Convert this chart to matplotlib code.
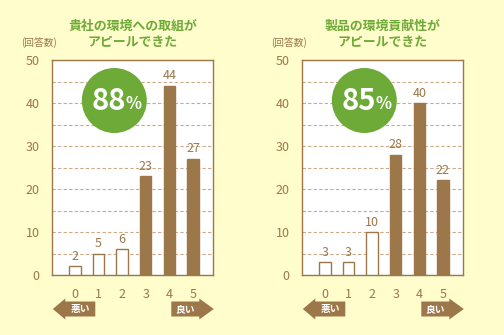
import matplotlib.pyplot as plt
from matplotlib.patches import Circle, Polygon

plt.rcParams['font.family'] = ['Noto Sans CJK JP', 'DejaVu Sans']

# answer scale 0 (bad) .. 5 (good)
scores = [0, 1, 2, 3, 4, 5]
counts_env = [2, 5, 6, 23, 44, 27]      # environmental efforts
counts_prod = [3, 3, 10, 28, 40, 22]    # environmental contribution of products
titles = ["貴社の環境への取組が\nアピールできた", "製品の環境貢献性が\nアピールできた"]
y_ticks = [0, 10, 20, 30, 40, 50]

BG = "#FFFDCB"
BROWN = "#9C774A"
GRID = "#C9AB8A"
GREEN = "#6EAA38"

W, H = 504, 335
fig = plt.figure(figsize=(W / 100, H / 100), dpi=100, facecolor=BG)


def px(x, y):
    # pixel position (from top-left) -> figure fraction
    return x / W, 1 - y / H


def arrow(x0, x1, yc, head, left, label):
    hh, bh = 10.5, 7.5
    if left:
        pts = [(x0, yc), (x0 + head, yc - hh), (x0 + head, yc - bh), (x1, yc - bh),
               (x1, yc + bh), (x0 + head, yc + bh), (x0 + head, yc + hh)]
        tx = (x0 + head + x1) / 2
    else:
        pts = [(x1, yc), (x1 - head, yc - hh), (x1 - head, yc - bh), (x0, yc - bh),
               (x0, yc + bh), (x1 - head, yc + bh), (x1 - head, yc + hh)]
        tx = (x0 + x1 - head) / 2
    fig.add_artist(Polygon([px(*p) for p in pts], closed=True, transform=fig.transFigure,
                           facecolor=BROWN, edgecolor="none"))
    fig.text(*px(tx, yc), label, color="white", fontsize=7, fontweight="bold",
             ha="center", va="center")


def panel(x_left, counts, title):
    ax = fig.add_axes([x_left / W, 60 / H, 160.7 / W, 215 / H])
    ax.set_facecolor("white")
    for s, c in zip(scores, counts):
        filled = s >= 3
        ax.bar(s, c, width=0.48, color=BROWN if filled else "white",
               edgecolor=BROWN, linewidth=1, zorder=3)
        ax.text(s, c + 0.8, str(c), ha="center", va="bottom", fontsize=9,
                color=BROWN, zorder=4)
    ax.set_xlim(-0.96, 5.85)
    ax.set_ylim(0, 50)
    ax.set_yticks(y_ticks)
    ax.set_yticks(range(5, 50, 5), minor=True)
    ax.set_xticks(scores)
    ax.tick_params(axis="both", which="both", length=0, colors=BROWN, labelsize=9)
    ax.tick_params(axis="x", pad=9)
    ax.tick_params(axis="y", pad=9)
    ax.grid(axis="y", which="both", color=GRID, linestyle=(0, (3, 2)), linewidth=0.8, zorder=1)
    for sp in ax.spines.values():
        sp.set_color(BROWN)
        sp.set_linewidth(1)

    cx = x_left + 80.4
    fig.text(*px(cx, 34), title, ha="center", va="center", fontsize=9.3,
             fontweight="bold", color=GREEN, linespacing=1.25)
    fig.text(*px(x_left - 13, 43), "(回答数)", ha="center", va="center",
             fontsize=7, color=BROWN)

    # share of positive answers (3..5)
    pct = round(100 * sum(counts[3:]) / sum(counts))
    circ = Circle(((x_left + 62) / 100, (H - 100.5) / 100), 0.325,
                  transform=fig.dpi_scale_trans, facecolor=GREEN, edgecolor="none", zorder=5)
    fig.add_artist(circ)
    fig.text(*px(x_left + 57, 101), str(pct), ha="center", va="center", fontsize=21,
             fontweight="bold", color="white", zorder=6)
    fig.text(*px(x_left + 81, 104), "%", ha="center", va="center", fontsize=12,
             fontweight="bold", color="white", zorder=6)

    arrow(x_left + 0.5, x_left + 43, 309, 12.5, True, "悪い")
    arrow(x_left + 119, x_left + 161.5, 309, 14.5, False, "良い")


panel(52.3, counts_env, titles[0])
panel(302.3, counts_prod, titles[1])

fig.savefig("out.png", dpi=100, facecolor=BG)
